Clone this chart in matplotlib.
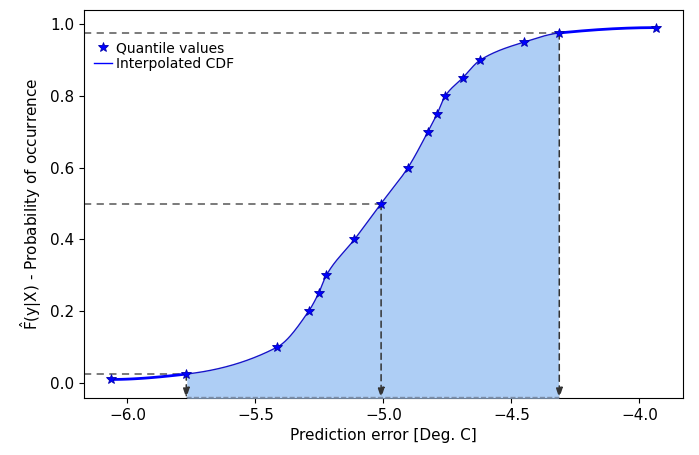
import matplotlib
matplotlib.use("Agg")
import matplotlib.pyplot as plt
import numpy as np

# quantile levels and the predicted quantile values
levels = [0.01, 0.025, 0.1, 0.2, 0.25, 0.3, 0.4, 0.5, 0.6,
          0.7, 0.75, 0.8, 0.85, 0.9, 0.95, 0.975, 0.99]
qvals = [-6.064, -5.770, -5.415, -5.292, -5.253, -5.223, -5.113, -5.009, -4.904,
         -4.826, -4.790, -4.758, -4.690, -4.621, -4.449, -4.313, -3.934]
marked = [0.025, 0.5, 0.975]   # levels highlighted with guide lines
lo_level, hi_level = 0.025, 0.975


def pchip(x, y, xn):
    """Monotone cubic (Fritsch-Carlson) interpolation."""
    x = np.asarray(x, float); y = np.asarray(y, float)
    h = np.diff(x); d = np.diff(y) / h
    m = np.zeros_like(y)
    for k in range(1, len(x) - 1):
        if d[k - 1] * d[k] > 0:
            w1 = 2 * h[k] + h[k - 1]; w2 = h[k] + 2 * h[k - 1]
            m[k] = (w1 + w2) / (w1 / d[k - 1] + w2 / d[k])
    m[0] = ((2 * h[0] + h[1]) * d[0] - h[0] * d[1]) / (h[0] + h[1])
    if np.sign(m[0]) != np.sign(d[0]): m[0] = 0
    m[-1] = ((2 * h[-1] + h[-2]) * d[-1] - h[-1] * d[-2]) / (h[-1] + h[-2])
    if np.sign(m[-1]) != np.sign(d[-1]): m[-1] = 0
    i = np.clip(np.searchsorted(x, xn) - 1, 0, len(x) - 2)
    t = (xn - x[i]) / h[i]
    h00 = 2 * t**3 - 3 * t**2 + 1; h10 = t**3 - 2 * t**2 + t
    h01 = -2 * t**3 + 3 * t**2; h11 = t**3 - t**2
    return h00 * y[i] + h10 * h[i] * m[i] + h01 * y[i + 1] + h11 * h[i] * m[i + 1]


q = dict(zip(levels, qvals))
xs = np.linspace(qvals[0], qvals[-1], 800)
cdf = pchip(qvals, levels, xs)

ymin, ymax = -0.042, 1.039
xmin, xmax = -6.17, -3.83

fig, ax = plt.subplots(figsize=(6.99, 4.55), dpi=100)
fig.subplots_adjust(left=0.12, right=0.977, top=0.978, bottom=0.125)

band = (xs >= q[lo_level]) & (xs <= q[hi_level])
left = xs <= q[lo_level] + 0.005
right = xs >= q[hi_level] - 0.005
ax.plot(xs[left], cdf[left], color="blue", lw=2, zorder=2)
ax.plot(xs[right], cdf[right], color="blue", lw=2, zorder=2)
ax.fill_between(xs[band], ymin, cdf[band], color="#aecef5", lw=0, zorder=3)
ax.plot(xs[band], cdf[band], color="#1515c8", lw=1, zorder=4)
ax.plot([q[lo_level], q[hi_level]], [ymin + 0.002] * 2, ls="--", lw=1,
        color="#7d8ea8", zorder=4)

for lv in marked:
    xv = q[lv]
    ax.plot([xmin, xv], [lv, lv], ls=(0, (4, 3)), lw=1.3, color="#707070", zorder=1)
    ax.annotate("", xy=(xv, ymin), xytext=(xv, lv),
                arrowprops=dict(arrowstyle="-|>,head_length=0.6,head_width=0.2",
                                ls=(0, (4, 3)), lw=1.1, color="#333333",
                                shrinkA=0, shrinkB=0), zorder=5)

ax.plot(qvals, levels, ls="none", marker="*", ms=7.5, color="blue",
        mec="#0000b0", mew=0.6, zorder=6, label="Quantile values")
ax.plot([], [], color="blue", lw=1, label="Interpolated CDF")

ax.set_xlim(xmin, xmax)
ax.set_ylim(ymin, ymax)
ax.set_xticks([-6.0, -5.5, -5.0, -4.5, -4.0])
ax.set_yticks([0.0, 0.2, 0.4, 0.6, 0.8, 1.0])
ax.tick_params(labelsize=11)
ax.set_xlabel("Prediction error [Deg. C]", fontsize=11)
ax.set_ylabel(r"$\hat{\mathrm{F}}$(y|X) - Probability of occurrence", fontsize=11)
ax.legend(loc="upper left", bbox_to_anchor=(0.0, 0.945), frameon=False,
          fontsize=10, handlelength=1.3, handletextpad=0.3,
          labelspacing=0.15, borderaxespad=0.3)

fig.savefig("out.png", dpi=100)
